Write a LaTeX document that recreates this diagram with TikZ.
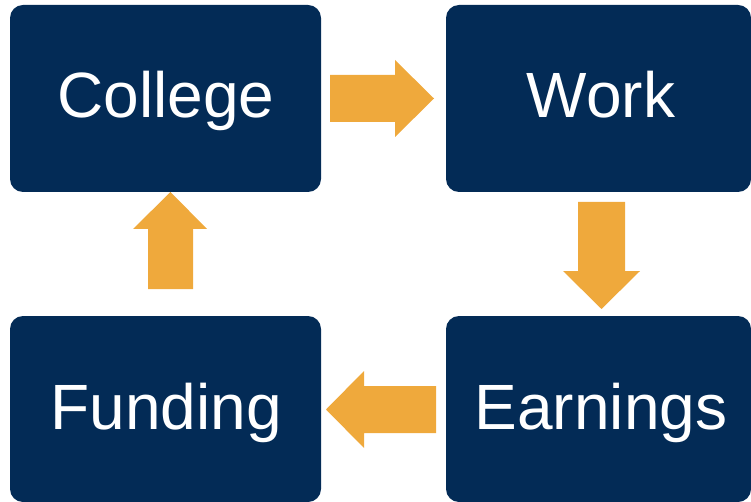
\documentclass[tikz,border=0pt]{standalone}
\usepackage{fontspec}
\setmainfont{Liberation Sans}
\definecolor{navy}{RGB}{3,43,86}
\definecolor{amber}{RGB}{239,169,60}
\begin{document}
\begin{tikzpicture}[x=1pt,y=-1pt,
  box/.style={fill=navy,draw=none,rounded corners=13pt},
  lbl/.style={text=white,font=\fontsize{64}{64}\selectfont,anchor=base,inner sep=0pt},
  blk/.style={fill=amber,draw=none}]
\useasboundingbox (0,0) rectangle (751,502);
\begin{scope}
\clip (0,0) rectangle (751,502);
\fill[box] (10,5) rectangle (321,192);
\fill[box] (446,5) rectangle (751,192);
\fill[box] (446,316) rectangle (751,502);
\fill[box] (10,316) rectangle (321,502);
\end{scope}
\node[lbl] (college) at (166,118) {College};
\node[lbl] (work) at (601,118) {Work};
\node[lbl] (earnings) at (601,429) {Earnings};
\node[lbl] (funding) at (166,429) {Funding};
% right arrow
\fill[blk] (330,75) -- (395,75) -- (395,60) -- (434,98.5) -- (395,137) -- (395,122) -- (330,122) -- cycle;
% down arrow
\fill[blk] (578,202) -- (625,202) -- (625,271) -- (640,271) -- (601.5,309) -- (563,271) -- (578,271) -- cycle;
% left arrow
\fill[blk] (436,386) -- (364,386) -- (364,371) -- (326,409.5) -- (364,448) -- (364,433) -- (436,433) -- cycle;
% up arrow
\fill[blk] (148,289) -- (148,229) -- (133,229) -- (170.5,192) -- (207,229) -- (193,229) -- (193,289) -- cycle;
\end{tikzpicture}
\end{document}
